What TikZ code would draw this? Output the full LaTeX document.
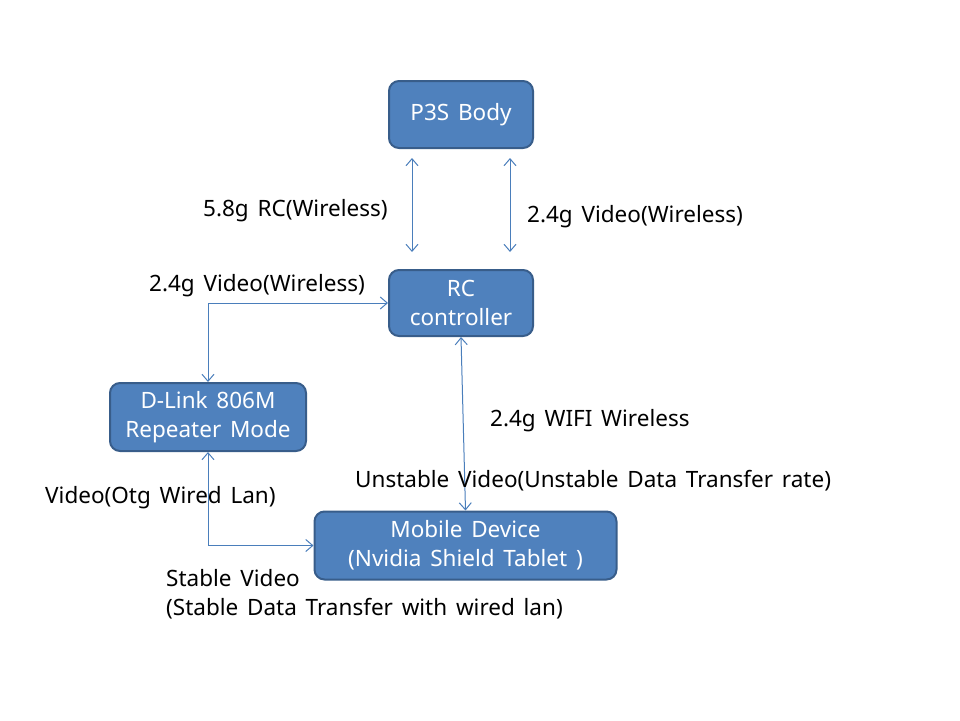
\documentclass[tikz,border=0pt]{standalone}
\usepackage{fontspec}
\setmainfont{Noto Sans}[WordSpace=1.5]
\usetikzlibrary{arrows.meta,calc}
\definecolor{boxfill}{HTML}{4F81BD}
\definecolor{boxline}{HTML}{385D8A}
\definecolor{arrowc}{HTML}{4A7EBB}
\tikzset{
  box/.style={draw=boxline, fill=boxfill, line width=2pt, rounded corners=10pt,
    text=white, align=center, inner sep=0pt, font=\fontsize{22.5}{29}\selectfont},
  link/.style={draw=arrowc, line width=1pt, {Straight Barb[length=7pt,width=12pt]}-{Straight Barb[length=7pt,width=12pt]}},
  lbl/.style={anchor=base west, inner sep=0pt, font=\fontsize{22.5}{29}\selectfont, align=left}
}
\begin{document}
\begin{tikzpicture}[x=1pt,y=-1pt]
\useasboundingbox (0,0) rectangle (960,720);
\node[box, minimum width=144pt, minimum height=67pt] (p3s) at (461,114.5) {P3S Body};
\node[box, minimum width=144pt, minimum height=66pt] (rc) at (461,303) {RC\\controller};
\node[box, minimum width=196pt, minimum height=68pt] (dlink) at (208,417) {D-Link 806M\\Repeater Mode};
\node[box, minimum width=302pt, minimum height=68pt] (mobile) at (465.5,545.5) {Mobile Device\\(Nvidia Shield Tablet )};

\draw[link, shorten <=9pt, shorten >=17pt] ($(p3s.south)+(-49,0)$) -- ($(rc.north)+(-49,0)$);
\draw[link, shorten <=9pt, shorten >=17pt] ($(p3s.south)+(49,0)$) -- ($(rc.north)+(49,0)$);
\draw[link] (rc.west) -| (dlink.north);
\draw[link] (dlink.south) |- (mobile.west);
\draw[link] (rc.south) -- (mobile.north);

\node[lbl] (l1) at (203,216) {5.8g RC(Wireless)};
\node[lbl] (l2) at (527,222) {2.4g Video(Wireless)};
\node[lbl] (l3) at (149,291) {2.4g Video(Wireless)};
\node[lbl] (l4) at (490,426) {2.4g WIFI Wireless};
\node[lbl] (l5) at (355,487) {Unstable Video(Unstable Data Transfer rate)};
\node[lbl] (l6) at (45,503) {Video(Otg Wired Lan)};
\node[lbl] (l7) at (166,586) {Stable Video};
\node[lbl] (l8) at (166,615) {(Stable Data Transfer with wired lan)};
\end{tikzpicture}
\end{document}
